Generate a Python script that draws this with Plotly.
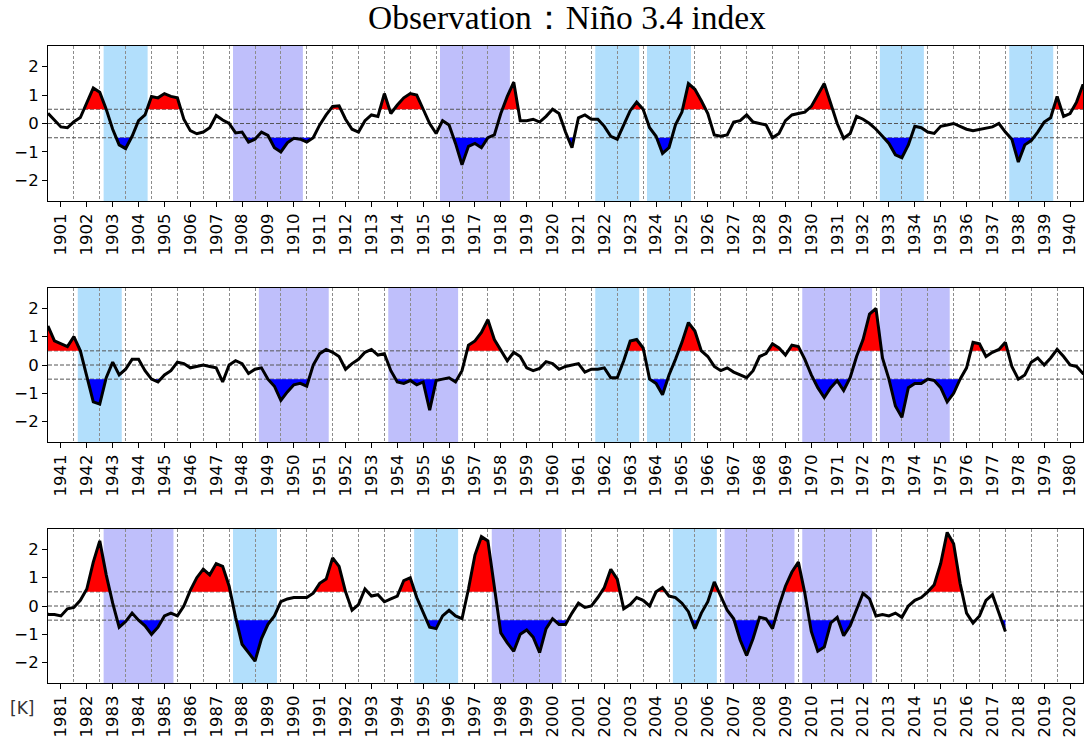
import numpy as np
import plotly.graph_objects as go

# Quarterly Niño 3.4 index values [K], first value = Jan 1901, step = 3 months
nino34_1901_1940 = [
    0.36, 0.12, -0.12, -0.15,   # 1901
    0.06, 0.21, 0.70, 1.25,     # 1902
    1.10, 0.50, -0.20, -0.75,   # 1903
    -0.88, -0.45, 0.10, 0.30,   # 1904
    0.95, 0.90, 1.05, 0.95,     # 1905
    0.90, 0.15, -0.25, -0.36,   # 1906
    -0.30, -0.15, 0.28, 0.12,   # 1907
    0.00, -0.33, -0.30, -0.65,  # 1908
    -0.55, -0.30, -0.42, -0.85, # 1909
    -1.00, -0.68, -0.52, -0.55, # 1910
    -0.65, -0.50, -0.05, 0.30,  # 1911
    0.60, 0.62, 0.15, -0.20,    # 1912
    -0.30, 0.10, 0.30, 0.25,    # 1913
    1.05, 0.35, 0.65, 0.90,     # 1914
    1.05, 1.00, 0.50, 0.00,     # 1915
    -0.35, 0.10, -0.05, -0.70,  # 1916
    -1.45, -0.80, -0.70, -0.85, # 1917
    -0.50, -0.40, 0.35, 0.95,   # 1918
    1.45, 0.10, 0.10, 0.15,     # 1919
    0.05, 0.25, 0.50, 0.35,     # 1920
    -0.30, -0.85, 0.20, 0.30,   # 1921
    0.15, 0.15, -0.10, -0.45,   # 1922
    -0.55, -0.05, 0.45, 0.75,   # 1923
    0.50, -0.15, -0.45, -1.05,  # 1924
    -0.85, -0.05, 0.40, 1.40,   # 1925
    1.20, 0.80, 0.35, -0.40,    # 1926
    -0.45, -0.40, 0.05, 0.10,   # 1927
    0.30, 0.05, 0.00, -0.05,    # 1928
    -0.50, -0.35, 0.10, 0.30,   # 1929
    0.35, 0.40, 0.60, 1.00,     # 1930
    1.40, 0.70, 0.00, -0.52,    # 1931
    -0.35, 0.25, 0.15, 0.00,    # 1932
    -0.20, -0.45, -0.70, -1.10, # 1933
    -1.20, -0.75, -0.10, -0.15, # 1934
    -0.30, -0.35, -0.10, -0.05, # 1935
    0.00, -0.10, -0.20, -0.25,  # 1936
    -0.20, -0.15, -0.12, 0.00,  # 1937
    -0.30, -0.55, -1.35, -0.75, # 1938
    -0.60, -0.30, 0.05, 0.20,   # 1939
    0.95, 0.25, 0.35, 0.75,     # 1940
]
nino34_1941_1980 = [
    1.37, 0.85, 0.75, 0.65,     # 1941
    1.00, 0.50, -0.40, -1.30,   # 1942
    -1.38, -0.45, 0.10, -0.35,  # 1943
    -0.15, 0.20, 0.20, -0.20,   # 1944
    -0.50, -0.60, -0.35, -0.20, # 1945
    0.10, 0.05, -0.10, -0.05,   # 1946
    0.00, -0.05, -0.10, -0.60,  # 1947
    0.00, 0.15, 0.05, -0.30,    # 1948
    -0.15, -0.10, -0.50, -0.75, # 1949
    -1.25, -0.95, -0.70, -0.65, # 1950
    -0.75, 0.00, 0.40, 0.55,    # 1951
    0.45, 0.30, -0.15, 0.05,    # 1952
    0.20, 0.45, 0.55, 0.35,     # 1953
    0.40, -0.20, -0.60, -0.65,  # 1954
    -0.55, -0.70, -0.60, -1.60, # 1955
    -0.55, -0.50, -0.45, -0.60, # 1956
    -0.20, 0.70, 0.85, 1.15,    # 1957
    1.60, 0.90, 0.50, 0.15,     # 1958
    0.45, 0.30, -0.10, -0.20,   # 1959
    -0.12, 0.12, 0.05, -0.15,   # 1960
    -0.05, 0.00, 0.05, -0.25,   # 1961
    -0.15, -0.15, -0.10, -0.45, # 1962
    -0.45, 0.15, 0.85, 0.90,    # 1963
    0.60, -0.50, -0.65, -1.05,  # 1964
    -0.35, 0.20, 0.80, 1.50,    # 1965
    1.20, 0.50, 0.30, -0.05,    # 1966
    -0.20, -0.10, -0.25, -0.35, # 1967
    -0.45, -0.20, 0.30, 0.40,   # 1968
    0.75, 0.60, 0.35, 0.70,     # 1969
    0.65, 0.20, -0.35, -0.80,   # 1970
    -1.15, -0.80, -0.55, -0.90, # 1971
    -0.45, 0.30, 0.90, 1.80,    # 1972
    2.00, 0.25, -0.50, -1.45,   # 1973
    -1.85, -0.80, -0.65, -0.65, # 1974
    -0.50, -0.55, -0.80, -1.30, # 1975
    -1.00, -0.50, -0.10, 0.80,  # 1976
    0.75, 0.30, 0.45, 0.55,     # 1977
    0.80, -0.05, -0.50, -0.35,  # 1978
    0.10, 0.25, 0.00, 0.25,     # 1979
    0.55, 0.30, 0.00, -0.05,    # 1980
]
nino34_1981_2018 = [
    -0.30, -0.30, -0.35, -0.10, # 1981
    -0.05, 0.20, 0.60, 1.55,    # 1982
    2.30, 1.10, 0.10, -0.75,    # 1983
    -0.55, -0.25, -0.50, -0.70, # 1984
    -1.00, -0.75, -0.35, -0.25, # 1985
    -0.35, 0.00, 0.55, 1.00,    # 1986
    1.30, 1.10, 1.50, 1.40,     # 1987
    0.70, -0.40, -1.35, -1.65,  # 1988
    -1.95, -1.15, -0.65, -0.35, # 1989
    0.15, 0.25, 0.30, 0.30,     # 1990
    0.30, 0.45, 0.80, 0.95,     # 1991
    1.70, 1.40, 0.50, -0.15,    # 1992
    0.05, 0.60, 0.35, 0.40,     # 1993
    0.15, 0.25, 0.35, 0.90,     # 1994
    1.00, 0.30, -0.25, -0.75,   # 1995
    -0.80, -0.35, -0.15, -0.35, # 1996
    -0.45, 0.60, 1.80, 2.45,    # 1997
    2.30, 0.60, -0.95, -1.30,   # 1998
    -1.60, -1.00, -0.85, -1.10, # 1999
    -1.65, -0.80, -0.45, -0.65, # 2000
    -0.65, -0.25, 0.10, -0.05,  # 2001
    0.00, 0.30, 0.65, 1.30,     # 2002
    0.95, -0.10, 0.05, 0.30,    # 2003
    0.20, 0.00, 0.50, 0.65,     # 2004
    0.35, 0.30, 0.10, -0.20,    # 2005
    -0.80, -0.25, 0.15, 0.85,   # 2006
    0.35, -0.15, -0.45, -1.20,  # 2007
    -1.75, -1.15, -0.40, -0.45, # 2008
    -0.80, 0.00, 0.70, 1.20,    # 2009
    1.55, 0.45, -0.90, -1.60,   # 2010
    -1.45, -0.60, -0.40, -1.05, # 2011
    -0.70, -0.10, 0.45, 0.25,   # 2012
    -0.35, -0.30, -0.35, -0.25, # 2013
    -0.40, 0.00, 0.20, 0.30,    # 2014
    0.50, 0.75, 1.50, 2.60,     # 2015
    2.20, 0.80, -0.25, -0.60,   # 2016
    -0.35, 0.20, 0.40, -0.25,   # 2017
    -0.90,                      # 2018 Jan
]

single_year_la_nina_onsets = [1903, 1922, 1924, 1933, 1938, 1942, 1962, 1964, 1988, 1995, 2005]
multi_year_la_nina_onsets = [1908, 1916, 1949, 1954, 1970, 1973, 1983, 1998, 2007, 2010]
multi_year_la_nina_ends = [1910, 1918, 1951, 1956, 1972, 1975, 1985, 2000, 2009, 2012]

panel_start_years = [1901, 1941, 1981]
panel_years = 40
el_nino_threshold = 0.5
la_nina_threshold = -0.5
reference_levels = [-0.5, 0.0, 0.5]

values = np.array(nino34_1901_1940 + nino34_1941_1980 + nino34_1981_2018, dtype=float)
times = 1901 + 0.25 * np.arange(len(values))


def clipped_polygon(t, v, level, above):
    xs, ys = [], []
    for i in range(len(t)):
        if i > 0:
            a, b = v[i - 1] - level, v[i] - level
            if a * b < 0:
                tc = t[i - 1] + (t[i] - t[i - 1]) * a / (a - b)
                xs.append(tc)
                ys.append(level)
        xs.append(t[i])
        ys.append(max(v[i], level) if above else min(v[i], level))
    px = xs + xs[::-1]
    py = ys + [level] * len(xs)
    return px, py


fig = go.Figure()

# plot area: x 48..1083 px, y 46..683 px of a 1084x749 page
H_PLOT = 637.0
domains = [
    [1 - 155 / H_PLOT, 1.0],
    [1 - 396 / H_PLOT, 1 - 242 / H_PLOT],
    [0.0, 1 - 483 / H_PLOT],
]
TICK_FONT = dict(family="DejaVu Sans", size=16.5, color="black")

shapes = []
for k, S in enumerate(panel_start_years):
    sfx = "" if k == 0 else str(k + 1)
    xa, ya = "x" + sfx, "y" + sfx
    E = S + panel_years
    m = (times >= S - 0.25) & (times <= E + 0.25)
    t = times[m]
    v = values[m]

    for lvl in reference_levels:
        fig.add_trace(go.Scatter(
            x=[S, E], y=[lvl, lvl], mode="lines",
            line=dict(color="#555555", width=1, dash="4px,2px"),
            hoverinfo="skip", showlegend=False, xaxis=xa, yaxis=ya))

    px, py = clipped_polygon(list(t), list(v), el_nino_threshold, True)
    fig.add_trace(go.Scatter(x=px, y=py, mode="lines", fill="toself",
                             fillcolor="#ff0000", line=dict(width=0),
                             hoverinfo="skip", showlegend=False, xaxis=xa, yaxis=ya))
    px, py = clipped_polygon(list(t), list(v), la_nina_threshold, False)
    fig.add_trace(go.Scatter(x=px, y=py, mode="lines", fill="toself",
                             fillcolor="#0000ff", line=dict(width=0),
                             hoverinfo="skip", showlegend=False, xaxis=xa, yaxis=ya))
    fig.add_trace(go.Scatter(x=t, y=v, mode="lines",
                             line=dict(color="black", width=3),
                             hoverinfo="skip", showlegend=False, xaxis=xa, yaxis=ya))

    # La Niña period bands
    for Y in single_year_la_nina_onsets:
        if S <= Y < E:
            shapes.append(dict(type="rect", xref=xa, yref=ya + " domain",
                               x0=Y + 0.15, x1=Y + 1.85, y0=0, y1=1,
                               fillcolor="#b2dffc", line=dict(width=0), layer="below"))
    for Y0, Y1 in zip(multi_year_la_nina_onsets, multi_year_la_nina_ends):
        if S <= Y0 < E:
            shapes.append(dict(type="rect", xref=xa, yref=ya + " domain",
                               x0=Y0 + 0.15, x1=Y1 + 0.85, y0=0, y1=1,
                               fillcolor="#bfbffb", line=dict(width=0), layer="below"))

    years = list(range(S, E))
    xaxis = dict(
        domain=[0, 1], range=[S, E], anchor=ya, automargin=False,
        tickmode="array", tickvals=[y + 0.5 for y in years],
        ticktext=[str(y) for y in years], tickangle=-90,
        ticks="outside", ticklen=5, tickwidth=1, tickcolor="black",
        tickfont=TICK_FONT,
        showline=True, linecolor="black", linewidth=1, mirror=True,
        showgrid=False, zeroline=False,
        minor=dict(tick0=S, dtick=1, showgrid=True, gridcolor="#8c8c8c",
                   griddash="3px,2px", gridwidth=1, ticks=""),
    )
    yaxis = dict(
        domain=domains[k], range=[-2.72, 2.72], anchor=xa, automargin=False,
        tickmode="array", tickvals=[-2, -1, 0, 1, 2],
        ticktext=["\u22122", "\u22121", "0", "1", "2"],
        ticks="outside", ticklen=5, tickwidth=1, tickcolor="black",
        tickfont=TICK_FONT,
        showline=True, linecolor="black", linewidth=1, mirror=True,
        showgrid=False, zeroline=False,
    )
    fig.layout["xaxis" + sfx] = xaxis
    fig.layout["yaxis" + sfx] = yaxis

fig.update_layout(
    width=1084, height=749,
    margin=dict(l=48, r=1, t=46, b=66, autoexpand=False),
    paper_bgcolor="white", plot_bgcolor="white",
    shapes=shapes,
    showlegend=False,
    title=dict(text="Observation\uff1aNiño 3.4 index", x=0.523, xanchor="center",
               y=1 - 17 / 749, yref="container", yanchor="middle",
               font=dict(family="Liberation Serif", size=33.5, color="black")),
    annotations=[dict(text="[K]", xref="paper", yref="paper",
                      x=-0.025, y=-0.039, xanchor="center", yanchor="middle",
                      showarrow=False,
                      font=dict(family="DejaVu Sans", size=17, color="#333333"))],
)

fig.write_html(
    "out.html",
    config={"displayModeBar": False},
    post_script="document.body.style.margin='0';document.body.style.overflow='hidden';",
)
